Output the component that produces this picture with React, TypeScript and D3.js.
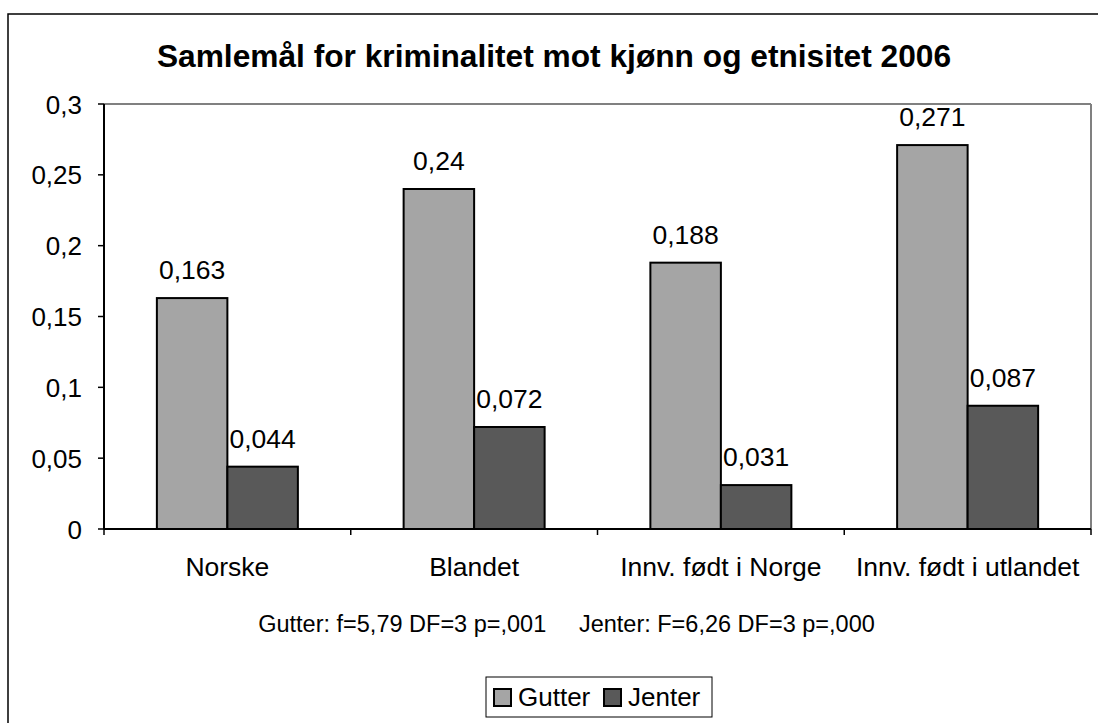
import React from "react";
import * as d3 from "d3";

const categories = ["Norske", "Blandet", "Innv. født i Norge", "Innv. født i utlandet"];
const seriesNames = ["Gutter", "Jenter"];
const gutter = [0.163, 0.24, 0.188, 0.271];
const jenter = [0.044, 0.072, 0.031, 0.087];
const yTicks = [0, 0.05, 0.1, 0.15, 0.2, 0.25, 0.3];
const title = "Samlemål for kriminalitet mot kjønn og etnisitet 2006";
const footnote = "Gutter: f=5,79 DF=3 p=,001     Jenter: F=6,26 DF=3 p=,000";
const colors = ["#a5a5a5", "#595959"];

const W = 1098;
const H = 723;
const plot = { left: 104, right: 1091, top: 104, bottom: 529 };
const FONT = "'Liberation Sans', Arial, Helvetica, sans-serif";

const fmt = (v: number) => String(v).replace(".", ",");

export default function App() {
  const x0 = d3.scaleBand<string>().domain(categories).range([plot.left, plot.right]).padding(0);
  const x1 = d3
    .scaleBand<string>()
    .domain(seriesNames)
    .range([0, x0.bandwidth()])
    .paddingInner(0)
    .paddingOuter(0.75);
  const y = d3.scaleLinear().domain([0, 0.3]).range([plot.bottom, plot.top]);
  const series = [gutter, jenter];
  const boundaries = [...categories.map((c) => x0(c)!), plot.right];

  return (
    <svg
      width={W}
      height={H}
      style={{ position: "absolute", left: 0, top: 0, background: "#fff" }}
      fontFamily={FONT}
    >
      <rect x={0} y={0} width={W} height={H} fill="#fff" />
      {/* outer chart border */}
      <rect x={8} y={14} width={W + 10} height={H + 10} fill="none" stroke="#000" strokeWidth={1.5} />

      <text x={554} y={67} textAnchor="middle" fontSize={31.7} fontWeight="bold" fill="#000">
        {title}
      </text>

      {/* plot area frame (top/right grey) */}
      <line x1={plot.left} x2={plot.right} y1={plot.top} y2={plot.top} stroke="#808080" strokeWidth={2} />
      <line x1={plot.right} x2={plot.right} y1={plot.top} y2={plot.bottom} stroke="#808080" strokeWidth={2} />

      {/* bars */}
      {series.map((vals, si) =>
        categories.map((c, ci) => {
          const bx = x0(c)! + x1(seriesNames[si])!;
          const by = y(vals[ci]);
          return (
            <g key={`${si}-${ci}`}>
              <rect
                x={bx}
                y={by}
                width={x1.bandwidth()}
                height={plot.bottom - by}
                fill={colors[si]}
                stroke="#000"
                strokeWidth={2}
              />
              <text
                x={bx + x1.bandwidth() / 2}
                y={by - 19}
                textAnchor="middle"
                fontSize={26.5}
                fill="#000"
              >
                {fmt(vals[ci])}
              </text>
            </g>
          );
        })
      )}

      {/* y axis */}
      <line x1={plot.left} x2={plot.left} y1={plot.top} y2={plot.bottom} stroke="#000" strokeWidth={2} />
      {yTicks.map((t) => (
        <g key={t}>
          <line x1={plot.left - 6} x2={plot.left} y1={y(t)} y2={y(t)} stroke="#000" strokeWidth={1.5} />
          <text x={82} y={y(t) + 9.5} textAnchor="end" fontSize={26} fill="#000">
            {fmt(t)}
          </text>
        </g>
      ))}

      {/* x axis */}
      <line x1={plot.left} x2={plot.right} y1={plot.bottom} y2={plot.bottom} stroke="#000" strokeWidth={2} />
      {boundaries.map((bx, i) => (
        <line key={i} x1={bx} x2={bx} y1={plot.bottom} y2={plot.bottom + 6} stroke="#000" strokeWidth={1.5} />
      ))}
      {categories.map((c) => (
        <text
          key={c}
          x={x0(c)! + x0.bandwidth() / 2}
          y={576}
          textAnchor="middle"
          fontSize={26.5}
          fill="#000"
        >
          {c}
        </text>
      ))}

      <text x={566.5} y={632} textAnchor="middle" fontSize={23.5} fill="#000" style={{ whiteSpace: "pre" }}>
        {footnote}
      </text>

      {/* legend */}
      <rect x={486} y={677} width={226} height={40} fill="#fff" stroke="#000" strokeWidth={1} />
      {seriesNames.map((s, i) => {
        const lx = [494, 604][i];
        return (
          <g key={s}>
            <rect x={lx} y={689} width={17} height={17} fill={colors[i]} stroke="#000" strokeWidth={2} />
            <text x={lx + 24} y={706} fontSize={26} fill="#000">
              {s}
            </text>
          </g>
        );
      })}
    </svg>
  );
}
